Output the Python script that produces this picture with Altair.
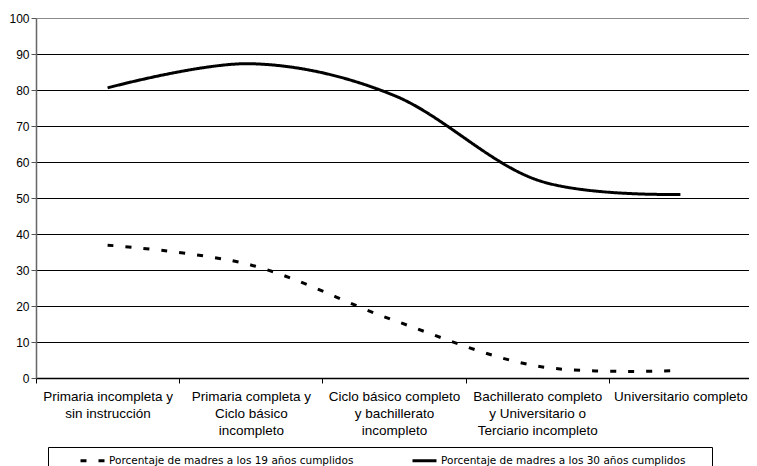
import altair as alt
import pandas as pd

categories = [
    "Primaria incompleta y|sin instrucción",
    "Primaria completa y|Ciclo básico|incompleto",
    "Ciclo básico completo|y bachillerato|incompleto",
    "Bachillerato completo|y Universitario o|Terciario incompleto",
    "Universitario completo",
]
series_names = [
    "Porcentaje de madres a los 19 años cumplidos",
    "Porcentaje de madres a los 30 años cumplidos",
]
values_19 = [36.9, 31.4, 16.0, 3.3, 2.1]
values_30 = [80.6, 87.3, 78.5, 55.0, 51.0]

rows = []
for cat, v in zip(categories, values_19):
    rows.append({"cat": cat, "serie": series_names[0], "valor": v})
for cat, v in zip(categories, values_30):
    rows.append({"cat": cat, "serie": series_names[1], "valor": v})
df = pd.DataFrame(rows)

x = alt.X(
    "cat:N",
    sort=categories,
    title=None,
    scale=alt.Scale(paddingInner=0, paddingOuter=0, range=[0, 716]),
    axis=alt.Axis(
        labelAngle=0,
        labelExpr="split(datum.label, '|')",
        labelFont="Liberation Sans",
        labelFontSize=13.5,
        labelLineHeight=17,
        labelColor="#000000",
        labelPadding=6,
        labelLimit=0,
        tickBand="extent",
        ticks=True,
        tickSize=5,
        tickColor="#000000",
        domainColor="#000000",
        domainWidth=1.5,
        grid=False,
    ),
)
y = alt.Y(
    "valor:Q",
    title=None,
    scale=alt.Scale(domain=[0, 100], nice=False),
    axis=alt.Axis(
        values=list(range(0, 101, 10)),
        labelFont="Liberation Sans",
        labelFontSize=12,
        labelColor="#000000",
        labelPadding=2,
        tickSize=5,
        tickColor="#555555",
        domainColor="#666666",
        domainWidth=1.5,
        grid=True,
        gridColor={"condition": {"test": "datum.value === 100", "value": "#8c8c8c"}, "value": "#000000"},
        gridWidth=1,
    ),
)

chart = (
    alt.Chart(df)
    .mark_line(interpolate="cardinal", strokeWidth=3, color="#000000", clip=False)
    .encode(
        x=x,
        y=y,
        strokeDash=alt.StrokeDash(
            "serie:N",
            scale=alt.Scale(domain=series_names, range=[[6, 12], [1, 0]]),
            legend=alt.Legend(
                title="\u00a0",
                titleOrient="right",
                titleFontSize=1,
                titlePadding=27,
                orient="none",
                legendX=12,
                legendY=429,
                direction="horizontal",
                columns=2,
                columnPadding=26,
                strokeColor="#000000",
                padding=0,
                symbolType="stroke",
                symbolSize=576,
                symbolStrokeWidth=3,
                symbolStrokeColor="#000000",
                symbolOffset=31,
                labelOffset=3,
                labelFont="DejaVu Sans",
                labelFontSize=10.5,
                labelColor="#000000",
                labelLimit=0,
            ),
        ),
        detail="serie:N",
    )
    .properties(
        width=713,
        height=360,
        autosize=alt.AutoSizeParams(type="none"),
        padding={"left": 28, "top": 10, "right": 0, "bottom": 88},
    )
    .configure_view(strokeWidth=0)
)

chart.save("out.html", embed_options={"renderer": "svg", "actions": False})
